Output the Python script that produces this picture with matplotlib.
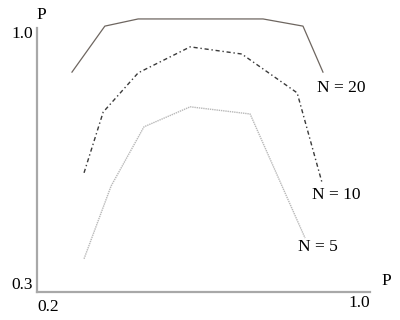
import matplotlib
matplotlib.use('Agg')
import matplotlib.pyplot as plt

plt.rcParams['font.family'] = ['Liberation Serif', 'DejaVu Serif']

# curves
x20 = [0.284, 0.363, 0.443, 0.592, 0.743, 0.839, 0.887]
y20 = [0.883, 1.005, 1.024, 1.024, 1.024, 1.005, 0.883]

x10 = [0.313, 0.359, 0.443, 0.568, 0.692, 0.825, 0.885]
y10 = [0.616, 0.777, 0.881, 0.950, 0.931, 0.828, 0.589]

x5 = [0.313, 0.378, 0.457, 0.568, 0.712, 0.844]
y5 = [0.388, 0.581, 0.738, 0.791, 0.772, 0.443]

labels = ['N = 20', 'N = 10', 'N = 5']
label_pos = [(0.872, 0.840), (0.860, 0.557), (0.827, 0.420)]

fig = plt.figure(figsize=(4, 3.2), dpi=100)
ax = fig.add_axes([0.0925, 0.0875, 0.8325, 0.825])
ax.set_xlim(0.2, 1.0)
ax.set_ylim(0.3, 1.0)

ax.plot(x20, y20, color='#6e6660', lw=0.9, clip_on=False)
ax.plot(x10, y10, color='#3a3a3a', lw=1.0, ls=(0, (3, 2, 1, 2)), clip_on=False)
ax.plot(x5, y5, color='#b8b8b8', lw=1.0, ls=(0, (1, 0.6)), clip_on=False)

for t, (lx, ly) in zip(labels, label_pos):
    ax.text(lx, ly, t, fontsize=12.5, ha='left', va='center')

for s in ['top', 'right']:
    ax.spines[s].set_visible(False)
for s in ['left', 'bottom']:
    ax.spines[s].set_color('#a8a8a8')
    ax.spines[s].set_linewidth(1.6)

ax.set_xticks([])
ax.set_yticks([])

# axis texts
ax.text(-0.012, 0.978, '1.0', transform=ax.transAxes, fontsize=12.5, ha='right', va='center')
ax.text(-0.012, 0.025, '0.3', transform=ax.transAxes, fontsize=12.5, ha='right', va='center')
ax.text(0.0, -0.058, '0.2', transform=ax.transAxes, fontsize=12.5, ha='left', va='center')
ax.text(1.0, -0.04, '1.0', transform=ax.transAxes, fontsize=12.5, ha='right', va='center')
ax.text(-0.003, 1.05, 'P', transform=ax.transAxes, fontsize=12.5, ha='left', va='center')
ax.text(1.035, 0.04, 'P', transform=ax.transAxes, fontsize=12.5, ha='left', va='center')

fig.savefig('out.png', dpi=100)
